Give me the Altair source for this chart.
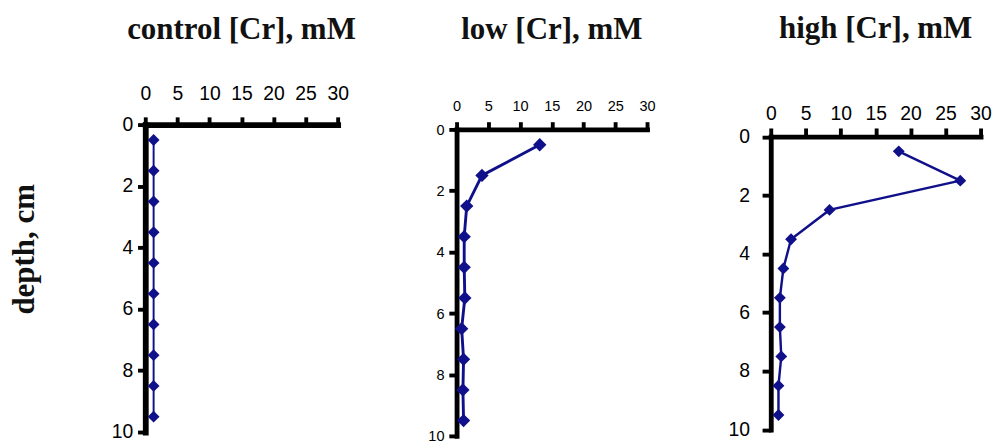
import altair as alt
import pandas as pd

depth = [0.5, 1.5, 2.5, 3.5, 4.5, 5.5, 6.5, 7.5, 8.5, 9.5]
control_cr = [1.3, 1.3, 1.3, 1.3, 1.3, 1.3, 1.3, 1.3, 1.3, 1.3]
low_cr = [13.1, 4.0, 1.6, 1.2, 1.2, 1.3, 0.8, 1.1, 1.0, 1.1]
high_cr = [18.3, 27.1, 8.4, 2.9, 1.8, 1.3, 1.3, 1.5, 1.1, 1.1]

titles = ["control [Cr], mM", "low [Cr], mM", "high [Cr], mM"]
x_ticks = [0, 5, 10, 15, 20, 25, 30]
y_ticks = [0, 2, 4, 6, 8, 10]

NAVY = "#10108a"
SERIF = "Liberation Serif"
SANS = "Liberation Sans"


def panel(values, title, w, top, h, lab_size, lab_pad_x, lab_pad_y, dom_w,
          tick_size, marker, stroke_w, title_offset, y_title=None):
    df = pd.DataFrame({"depth": depth, "cr": values})
    yaxis_kw = dict(
        values=y_ticks, grid=False, domainColor="black", domainWidth=dom_w,
        domainCap="square", tickColor="black", tickWidth=4, tickSize=tick_size,
        labelFont=SANS, labelFontSize=lab_size, labelColor="black",
        labelPadding=lab_pad_y, labelFlush=False,
    )
    if y_title:
        yaxis_kw.update(title=y_title, titleFont=SERIF, titleFontSize=32,
                        titleFontWeight="bold", titleColor="#111111",
                        titleAngle=270, titleAlign="center",
                        titleBaseline="middle", titleX=-126, titleY=128.5)
    else:
        yaxis_kw.update(title=None)
    x = alt.X(
        "cr:Q",
        scale=alt.Scale(domain=[0, 30], nice=False, zero=False),
        axis=alt.Axis(
            orient="top", offset=-top, values=x_ticks, title=None, grid=False,
            domainColor="black", domainWidth=dom_w, domainCap="square",
            tickColor="black", tickWidth=4, tickSize=tick_size,
            labelFont=SANS, labelFontSize=lab_size, labelColor="black",
            labelPadding=lab_pad_x, labelFlush=False,
        ),
    )
    y = alt.Y(
        "depth:Q",
        scale=alt.Scale(domain=[0, 10], range=[top, top + h], nice=False,
                        zero=False),
        axis=alt.Axis(**yaxis_kw),
    )
    base = alt.Chart(df)
    line = base.mark_line(color=NAVY, strokeWidth=stroke_w).encode(
        x=x, y=y, order="depth:Q")
    pts = base.mark_point(shape="diamond", filled=True, size=marker,
                          color=NAVY, opacity=1).encode(x=x, y=y)
    return alt.layer(line, pts).properties(
        width=w, height=top + h,
        title=alt.TitleParams(title, font=SERIF, fontSize=32, fontWeight="bold",
                              color="#111111", anchor="middle", frame="group",
                              offset=title_offset),
    )


p1 = panel(control_cr, titles[0], 199, 0, 318, 20, 14, 5, 6, 8, 150, 2, 39.5,
           y_title="depth, cm")
p2 = panel(low_cr, titles[1], 197, 5, 317, 15, 9, 5, 5, 8, 190, 3, 54.5)
p3 = panel(high_cr, titles[2], 217, 12.5, 303, 20, 5, 13, 5, 9, 150, 2.5, 61)

chart = (
    alt.concat(p1, p2, p3, columns=3, spacing=74)
    .properties(padding={"left": 0, "top": -3, "right": 5, "bottom": 0},
                background="white")
    .configure_view(stroke=None)
)

chart.save("out.html", embed_options={"renderer": "svg", "actions": False})
